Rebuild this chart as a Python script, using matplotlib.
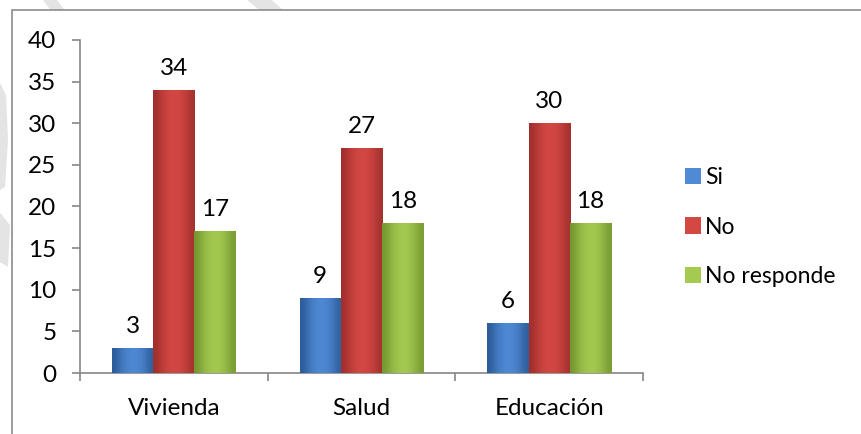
import matplotlib.pyplot as plt
import numpy as np
from matplotlib.patches import Rectangle, Polygon
from matplotlib.colors import LinearSegmentedColormap

plt.rcParams['font.family'] = ['Lato', 'DejaVu Sans']

categorias = ['Vivienda', 'Salud', 'Educación']
series = ['Si', 'No', 'No responde']
si = [3, 9, 6]
no = [34, 27, 30]
no_responde = [17, 18, 18]
valores = [si, no, no_responde]

# colores (borde oscuro, centro claro)
colores = [('#2c5b99', '#4f8ad6'), ('#a02f2c', '#d44844'), ('#769830', '#a4ca50')]

W, H = 861, 434
fig = plt.figure(figsize=(W / 100, H / 100), dpi=100)
fs = 17.5

def fx(px):
    return px / W

def fy(py):
    return 1 - py / H

# marca de agua gris (fuera del marco del grafico)
marcas = [
    [(43, 0), (57, 0), (66, 12), (52, 12)],
    [(247, 0), (272, 0), (285, 12), (262, 12)],
    [(0, 83), (6, 95), (8, 140), (5, 187), (0, 190)],
    [(0, 213), (10, 225), (8, 267), (0, 262)],
]
for m in marcas:
    fig.patches.append(Polygon([(fx(x), fy(y)) for x, y in m], closed=True,
                               transform=fig.transFigure, facecolor='#e4e4e4',
                               edgecolor='none', zorder=0))

# marco del area del grafico
fig.patches.append(Rectangle((fx(12), fy(440)), fx(900) - fx(12), fy(10) - fy(440),
                             transform=fig.transFigure, facecolor='white',
                             edgecolor='#8c8c8c', linewidth=1.2, zorder=1))

ax = fig.add_axes([fx(80), fy(373), fx(643) - fx(80), fy(40) - fy(373)])
ax.set_facecolor('none')
ax.set_zorder(5)

x = np.arange(len(categorias))
ancho = 0.22
desplaz = [-ancho, 0, ancho]
grad = np.array([[0.0, 0.55, 0.85, 1.0, 0.9, 0.6, 0.1]])

for i, serie in enumerate(series):
    oscuro, claro = colores[i]
    cmap = LinearSegmentedColormap.from_list('g%d' % i, [oscuro, claro])
    rects = ax.bar(x + desplaz[i], valores[i], ancho, color=claro,
                   edgecolor='none', label=serie, zorder=2)
    for r in rects:
        xb, yb = r.get_x(), r.get_y()
        im = ax.imshow(grad, cmap=cmap, vmin=0, vmax=1, aspect='auto',
                       extent=[xb, xb + r.get_width(), yb, yb + r.get_height()],
                       zorder=3, interpolation='bicubic')
        im.set_clip_path(r)
    ax.bar_label(rects, padding=8, fontsize=fs, color='black', zorder=4)

ax.set_xlim(-0.5, 2.5)
ax.set_ylim(0, 40)
ax.set_yticks(np.arange(0, 41, 5))
ax.set_xticks([-0.5, 0.5, 1.5, 2.5])
ax.set_xticklabels([])
ax.set_xticks(x, minor=True)
ax.set_xticklabels(categorias, minor=True)
ax.tick_params(axis='x', which='minor', length=0, labelsize=fs, pad=18)
ax.tick_params(axis='x', which='major', length=6, color='#868686', width=1.2)
ax.tick_params(axis='y', length=6, color='#868686', width=1.2, labelsize=fs, pad=11)

for s in ['top', 'right']:
    ax.spines[s].set_visible(False)
for s in ['left', 'bottom']:
    ax.spines[s].set_color('#868686')
    ax.spines[s].set_linewidth(1.2)

ax.legend(loc='center left', bbox_to_anchor=(fx(664), fy(227)),
          bbox_transform=fig.transFigure, frameon=False, fontsize=16.5,
          handlelength=0.7, handleheight=0.7, handletextpad=0.2,
          labelspacing=1.25)

fig.savefig('out.png', dpi=100)
